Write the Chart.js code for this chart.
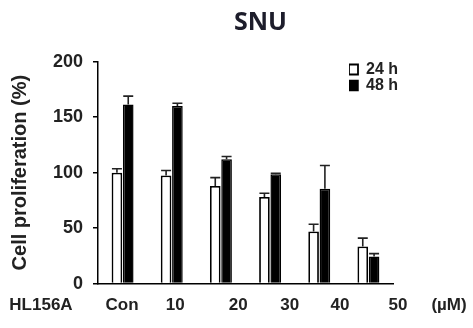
<!DOCTYPE html>
<html><head><meta charset="utf-8">
<script src="https://cdn.jsdelivr.net/npm/chart.js@4.4.1/dist/chart.umd.min.js"></script>
<style>html,body{margin:0;padding:0;background:#fff;} #wrap{width:473px;height:328px;}</style>
</head><body><div id="wrap"><canvas id="c" width="473" height="328"></canvas></div>
<script>
// ---- data ----
const categories = ['Con', '10', '20', '30', '40', '50'];
const seriesNames = ['24 h', '48 h'];
const values24 = [100, 97.5, 88, 78, 47, 33.5];
const errors24 = [3.5, 4.5, 7.5, 3.5, 6.5, 7.5];
const values48 = [161.5, 160, 112, 98.5, 85.5, 24.5];
const errors48 = [7.5, 2.5, 2.5, 1, 21, 2.5];
const yTickValues = [0, 50, 100, 150, 200];
const rowLabels = ['HL156A', 'Con', '10', '20', '30', '40', '50', '(µM)'];
// where each row label sits along the dose-label axis (layout only)
const rowLabelSlots = [-1.16, 0.49, 1.57, 2.85, 3.9, 4.92, 6.1, 7.14];

const FONT = "'Liberation Sans', Arial, sans-serif";
Chart.defaults.font.family = FONT;
Chart.defaults.color = '#222';

const errorBars = {
  id: 'errorBars',
  afterDatasetsDraw(chart) {
    const ctx = chart.ctx, ys = chart.scales.y;
    chart.data.datasets.forEach((ds, i) => {
      const meta = chart.getDatasetMeta(i);
      meta.data.forEach((bar, j) => {
        const v = ds.data[j], e = ds.errors[j];
        const top = ys.getPixelForValue(v + e);
        ctx.save();
        ctx.strokeStyle = '#222';
        ctx.lineWidth = 1.6;
        ctx.beginPath();
        ctx.moveTo(bar.x, bar.y);
        ctx.lineTo(bar.x, top);
        ctx.moveTo(bar.x - 5, top);
        ctx.lineTo(bar.x + 5, top);
        ctx.stroke();
        ctx.restore();
      });
    });
  }
};

const placeBoxes = {
  id: 'placeBoxes',
  afterLayout(chart, args, opts) {
    const t = chart.titleBlock;
    if (t) { const dx = opts.titleCenter - (t.left + t.right) / 2; t.left += dx; t.right += dx; }
    const lg = chart.legend;
    if (lg) {
      const dx = opts.legendLeft - lg.left;
      lg.left += dx; lg.right += dx;
      lg.top = opts.legendTop; lg.bottom = opts.legendTop + 60;
    }
  }
};

new Chart(document.getElementById('c'), {
  type: 'bar',
  data: {
    labels: categories,
    datasets: [
      { label: seriesNames[0], data: values24, errors: errors24,
        backgroundColor: '#ffffff', borderColor: '#000000', borderWidth: 1.8 },
      { label: seriesNames[1], data: values48, errors: errors48,
        backgroundColor: '#000000', borderColor: '#000000', borderWidth: 1.5 }
    ]
  },
  plugins: [errorBars, placeBoxes],
  options: {
    responsive: false,
    animation: false,
    layout: { padding: { left: 0, right: 80, top: 0, bottom: 0 } },
    datasets: { bar: { barPercentage: 0.94, categoryPercentage: 0.46, borderSkipped: 'start' } },
    scales: {
      x: {
        type: 'category', position: 'bottom', weight: 0, offset: true,
        grid: { display: false, drawTicks: false },
        border: { display: true, color: '#000', width: 1.5 },
        ticks: { display: false }
      },
      xl: {
        type: 'linear', position: 'bottom', weight: 1, min: 0, max: 6, offset: false,
        grid: { display: false, drawTicks: false, offset: false },
        border: { display: false },
        afterBuildTicks: s => { s.ticks = rowLabelSlots.map(v => ({ value: v })); },
        afterFit: s => { s.paddingLeft = 0; s.paddingRight = 0; },
        ticks: {
          autoSkip: false, maxRotation: 0, minRotation: 0, padding: 12,
          font: { size: 17, weight: 'bold' }, color: '#222',
          callback: (v, i) => rowLabels[i]
        }
      },
      y: {
        min: 0, max: 200,
        afterBuildTicks: s => { s.ticks = yTickValues.map(v => ({ value: v })); },
        afterFit: s => { s.width = 98; },
        grid: { drawOnChartArea: false, drawTicks: true, tickLength: 5, color: '#000', lineWidth: 1.5 },
        border: { display: true, color: '#000', width: 1.5 },
        ticks: { padding: 10, font: { size: 18, weight: 'bold' }, color: '#222' },
        title: { display: true, text: 'Cell proliferation (%)', font: { size: 20, weight: 'bold' },
                 color: '#222', padding: { top: 8, bottom: 0 } }
      }
    },
    plugins: {
      title: { display: true, text: 'SNU', color: '#1d1d2b',
               font: { family: "'Open Sans', sans-serif", size: 25, weight: 'bold' },
               padding: { top: 8, bottom: 23.7 } },
      legend: {
        position: 'chartArea', align: 'start',
        labels: { boxWidth: 9, boxHeight: 10, padding: 0, color: '#222',
                  font: { size: 16, weight: 'bold' } }
      },
      tooltip: { enabled: false },
      placeBoxes: { titleCenter: 260.5, legendLeft: 349, legendTop: 61.5 }
    }
  }
});
</script></body></html>
